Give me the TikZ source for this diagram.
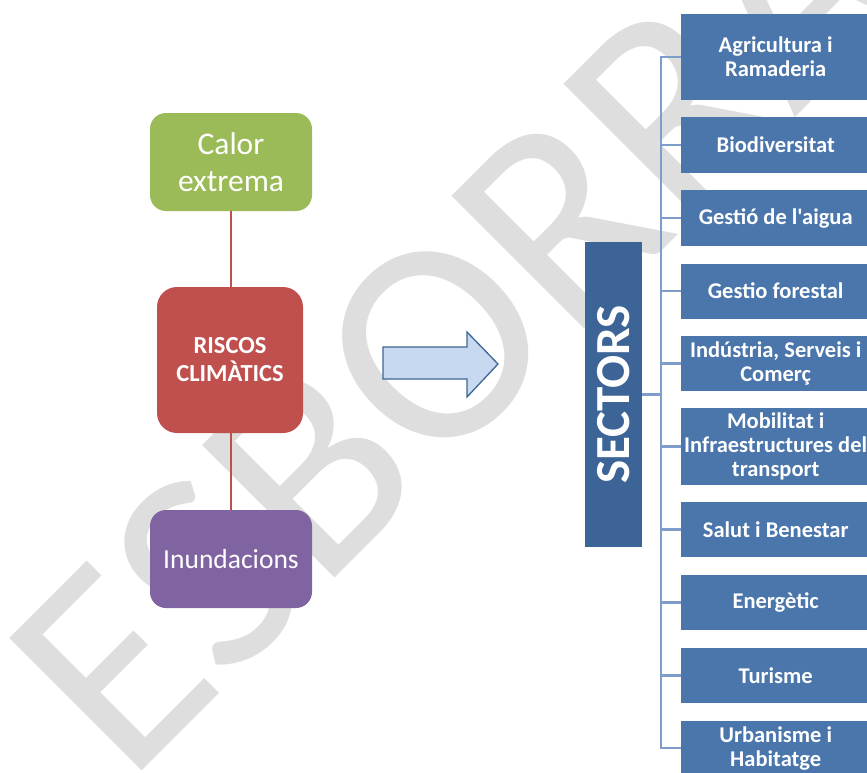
\documentclass[tikz,border=0pt]{standalone}
\usepackage{fontspec}
\setmainfont{Carlito}[Ligatures=TeXOff]
\definecolor{cgreen}{HTML}{9BBB59}
\definecolor{cred}{HTML}{C0504D}
\definecolor{cpurple}{HTML}{8064A2}
\definecolor{carrowfill}{HTML}{C6D9F1}
\definecolor{carrowline}{HTML}{3F6593}
\definecolor{csectors}{HTML}{3D6497}
\definecolor{cbox}{HTML}{4A76AC}
\definecolor{cbracket}{HTML}{7E9DCB}
\definecolor{cwm}{HTML}{DEDEDE}
\tikzset{
  riskbox/.style={rounded corners=16pt, minimum width=162pt, minimum height=98pt, text=white, align=center, inner sep=0pt, font=\fontsize{31.5}{37}\selectfont},
  sectorbox/.style={fill=cbox, anchor=west, minimum width=189pt, text width=189pt, align=flush center, text=white, inner sep=0pt, font=\bfseries\fontsize{22.5}{24}\selectfont},
  bracket/.style={draw=cbracket, line width=2.5pt},
  riskline/.style={draw=cred, line width=2pt},
  wm/.style={text=cwm, font=\fontsize{292}{292}\selectfont, rotate=45, anchor=base west, inner sep=0pt}
}
\begin{document}
\begin{tikzpicture}[x=1pt,y=-1pt]
\useasboundingbox (0,0) rectangle (867,772);
\begin{scope}
\clip (0,0) rectangle (867,772);
\node[wm] (wmark) at (127,786) {ESBORRANY};

% left risk boxes
\node[riskbox, fill=cgreen] (calor) at (231,162) {Calor\\extrema};
\node[riskbox, fill=cred, minimum width=146pt, minimum height=146pt, rounded corners=20pt, font=\bfseries\fontsize{24.5}{28}\selectfont] (riscos) at (230,360) {RISCOS\\CLIMÀTICS};
\node[riskbox, fill=cpurple, font=\fontsize{27.5}{33}\selectfont] (inund) at (231,559) {Inundacions};
\draw[riskline] (calor.south) -- (calor.south |- riscos.north);
\draw[riskline] (inund.north) -- (inund.north |- riscos.south);

% arrow
\draw[draw=carrowline, fill=carrowfill, line width=1.3pt, line join=miter]
  (383,347) -- (467,347) -- (467,332) -- (498,364) -- (467,397) -- (467,379) -- (383,379) -- cycle;

% SECTORS
\node[fill=csectors, minimum width=57pt, minimum height=305pt, inner sep=0pt] (sec) at (613.5,394.5) {};
\node[rotate=90, text=white, font=\bfseries\fontsize{49}{49}\selectfont, inner sep=0pt] (sectxt) at (sec.center) {SECTORS};

% sector boxes
\node[sectorbox, minimum height=86pt] (s1) at (681,57) {Agricultura i\\Ramaderia};
\node[sectorbox, minimum height=56pt] (s2) at (681,145) {Biodiversitat};
\node[sectorbox, minimum height=56pt] (s3) at (681,218) {Gestió de l'aigua};
\node[sectorbox, minimum height=55pt] (s4) at (681,291) {Gestio forestal};
\node[sectorbox, minimum height=55pt] (s5) at (681,363.5) {Indústria, Serveis~i\\Comerç};
\node[sectorbox, minimum height=77pt] (s6) at (681,446.5) {Mobilitat i\\Infraestructures~del\\transport};
\node[sectorbox, minimum height=55pt] (s7) at (681,529.5) {Salut i Benestar};
\node[sectorbox, minimum height=55pt] (s8) at (681,602.5) {Energètic};
\node[sectorbox, minimum height=55pt] (s9) at (681,675.5) {Turisme};
\node[sectorbox, minimum height=55pt] (s10) at (681,748) {Urbanisme i\\Habitatge};

% bracket
\coordinate (spine) at (661,394.5);
\draw[bracket] (sec.east) -- (spine);
\draw[bracket] (s1.west) -- (s1.west -| spine) -- (s10.west -| spine) -- (s10.west);
\foreach \k in {2,...,9} {\draw[bracket] (s\k.west) -- (s\k.west -| spine);}
\end{scope}
\end{tikzpicture}
\end{document}
